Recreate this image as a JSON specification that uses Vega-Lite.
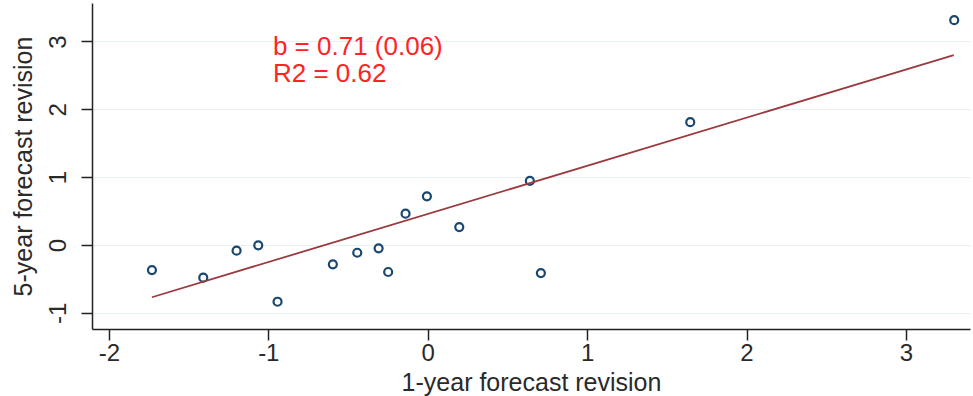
{
  "$schema": "https://vega.github.io/schema/vega-lite/v6.json",
  "autosize": "none",
  "width": 878,
  "height": 326,
  "padding": {"left": 92, "top": 3, "right": 3, "bottom": 67},
  "background": "white",
  "config": {
    "view": {"stroke": null},
    "font": "Liberation Sans",
    "axis": {
      "labelFont": "Liberation Sans",
      "titleFont": "Liberation Sans",
      "labelFontSize": 24,
      "titleFontSize": 25,
      "labelColor": "#2a2a2a",
      "titleColor": "#2a2a2a",
      "titleFontWeight": "normal",
      "domainColor": "#222222",
      "domainWidth": 1.5,
      "tickColor": "#222222",
      "tickWidth": 1.5,
      "tickSize": 11,
      "labelExpr": "'' + datum.value"
    }
  },
  "datasets": {
    "points": [
      {"x1": -1.730, "x5": -0.369},
      {"x1": -1.408, "x5": -0.482},
      {"x1": -1.199, "x5": -0.084},
      {"x1": -1.063, "x5": -0.004},
      {"x1": -0.942, "x5": -0.836},
      {"x1": -0.595, "x5": -0.285},
      {"x1": -0.442, "x5": -0.114},
      {"x1": -0.308, "x5": -0.049},
      {"x1": -0.248, "x5": -0.398},
      {"x1": -0.139, "x5": 0.462},
      {"x1": -0.005, "x5": 0.718},
      {"x1": 0.198, "x5": 0.265},
      {"x1": 0.641, "x5": 0.944},
      {"x1": 0.710, "x5": -0.413},
      {"x1": 1.647, "x5": 1.810},
      {"x1": 3.303, "x5": 3.314}
    ],
    "fit": [
      {"x1": -1.73, "x5": -0.77},
      {"x1": 3.30, "x5": 2.80}
    ],
    "notes": [
      {"x1": -0.971, "x5": 2.80, "label": "b = 0.71 (0.06)"},
      {"x1": -0.971, "x5": 2.40, "label": "R2 = 0.62"}
    ]
  },
  "layer": [
    {
      "data": {"name": "points"},
      "mark": {"type": "point", "shape": "circle", "filled": false, "stroke": "#1a476f", "strokeWidth": 2.2, "size": 64, "opacity": 1},
      "encoding": {
        "x": {
          "field": "x1", "type": "quantitative",
          "scale": {"domain": [-2.106, 3.402], "nice": false, "zero": false},
          "axis": {
            "title": "1-year forecast revision",
            "values": [-2, -1, 0, 1, 2, 3],
            "grid": false,
            "labelPadding": 1,
            "titleY": 61,
            "titleBaseline": "alphabetic"
          }
        },
        "y": {
          "field": "x5", "type": "quantitative",
          "scale": {"domain": [-1.238, 3.567], "nice": false, "zero": false},
          "axis": {
            "title": "5-year forecast revision",
            "values": [-1, 0, 1, 2, 3],
            "grid": true,
            "gridColor": "#e8f0f2",
            "gridWidth": 1,
            "labelAngle": 270,
            "labelAlign": "center",
            "labelBaseline": "alphabetic",
            "labelPadding": 16,
            "titleX": -61,
            "titleBaseline": "alphabetic"
          }
        }
      }
    },
    {
      "data": {"name": "fit"},
      "mark": {"type": "line", "stroke": "#9a3a3e", "strokeWidth": 1.8},
      "encoding": {
        "x": {"field": "x1", "type": "quantitative"},
        "y": {"field": "x5", "type": "quantitative"}
      }
    },
    {
      "data": {"name": "notes"},
      "mark": {"type": "text", "align": "left", "baseline": "alphabetic", "color": "#ff2424", "fontSize": 26, "font": "Liberation Sans"},
      "encoding": {
        "x": {"field": "x1", "type": "quantitative"},
        "y": {"field": "x5", "type": "quantitative"},
        "text": {"field": "label"}
      }
    }
  ]
}
